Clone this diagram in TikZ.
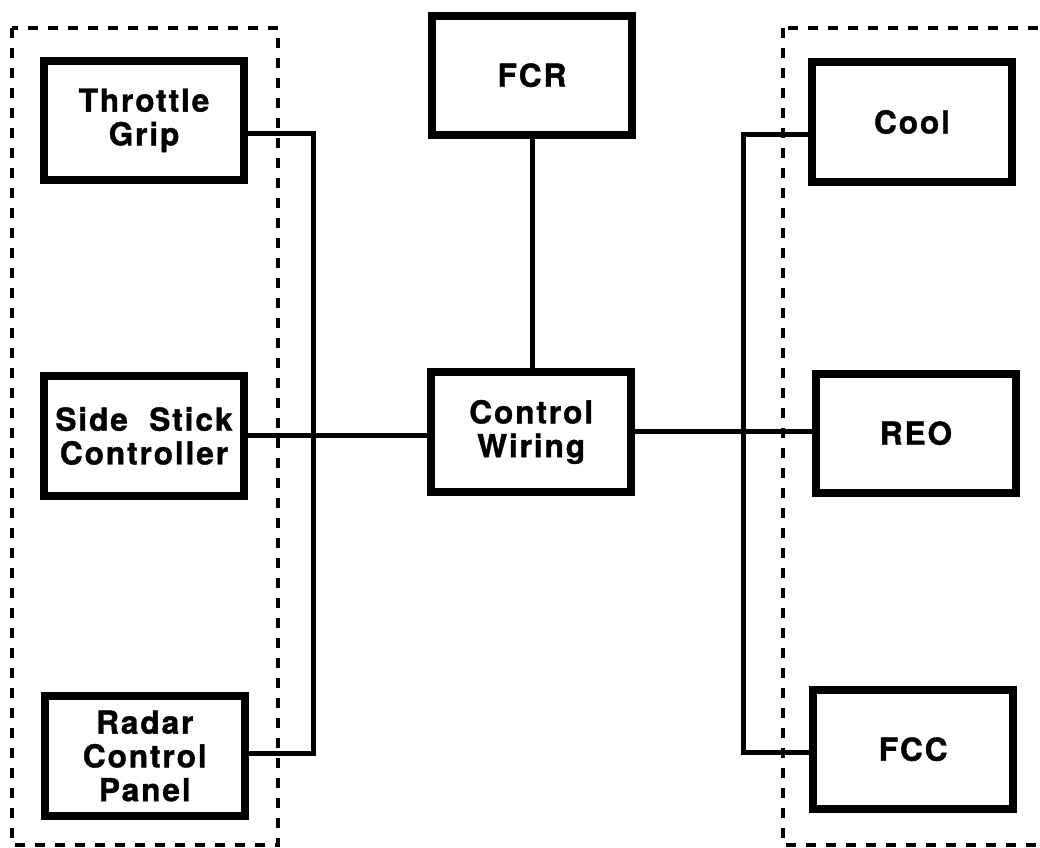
\documentclass[tikz,border=0pt]{standalone}
\usepackage{fontspec}
\setmainfont{TeX Gyre Heros}[LetterSpace=6, BoldFeatures={FakeBold=1.2}]
\tikzset{
  unit/.style={draw, line width=0.2cm, minimum width=5cm, minimum height=2.98cm,
    align=center, font=\bfseries\fontsize{22.5}{24}\selectfont},
  wire/.style={line width=0.125cm},
  grp/.style={dashed, line width=0.1cm, dash pattern=on 0.25cm off 0.25cm}
}
\begin{document}
\begin{tikzpicture}
\useasboundingbox (0,0) rectangle (26,-21.2);

\node[unit] (thr) at (3.6,-3.01) {Throttle\\Grip};
\node[unit] (ssc) at (3.6,-10.9) {Side~~Stick\\Controller};
\node[unit] (rcp) at (3.62,-18.9) {Radar\\Control\\Panel};

\node[unit] (fcr) at (13.3,-1.88) {FCR};
\node[unit] (cw) at (13.28,-10.8) {Control\\Wiring};

\node[unit] (cool) at (22.8,-3.05) {Cool};
\node[unit] (reo) at (22.9,-10.83) {REO};
\node[unit] (fcc) at (22.83,-18.73) {FCC};

\draw[grp] (0.3,-0.7) rectangle (6.95,-21.12);
\draw[grp] (19.58,-0.7) rectangle (26.6,-21.12);

\coordinate (lt) at (7.83,-3.33);
\coordinate (lb) at (7.83,-18.83);
\coordinate (rt) at (18.58,-3.375);
\coordinate (rb) at (18.58,-18.8);

\draw[wire] (thr.east |- lt) -- (lt) -- (lb) -- (rcp.east |- lb);
\draw[wire] (ssc.east) -- (ssc.east -| cw.west);
\draw[wire] (fcr.south) -- (fcr.south |- cw.north);
\draw[wire] (cw.east) -- (cw.east -| reo.west);
\draw[wire] (cool.west |- rt) -- (rt) -- (rb) -- (fcc.west |- rb);
\end{tikzpicture}
\end{document}
